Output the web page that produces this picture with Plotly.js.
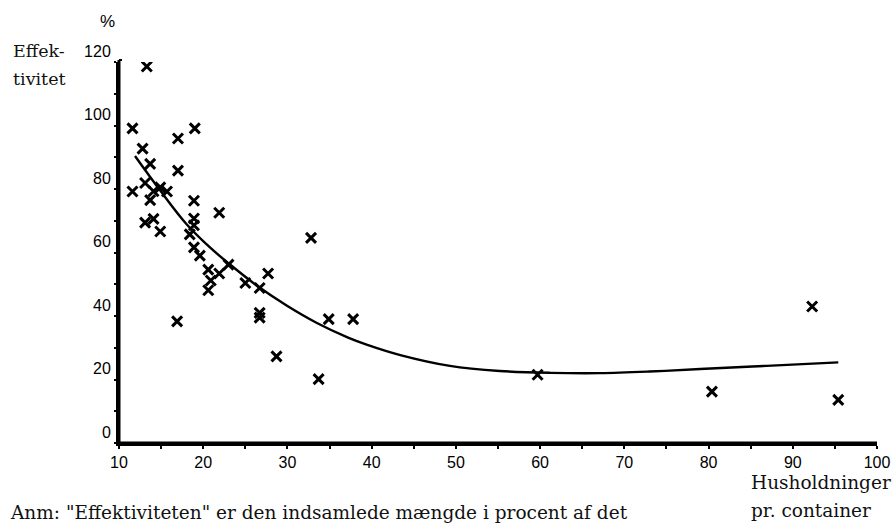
<!DOCTYPE html>
<html>
<head>
<meta charset="utf-8">
<script src="https://cdn.plot.ly/plotly-3.0.1.min.js"></script>
<style>html,body{margin:0;padding:0;background:#fff;}#chart{width:896px;height:527px;}</style>
</head>
<body>
<div id="chart"></div>
<script>
// Observed points: households per container vs. efficiency (%)
const householdsX = [13.3, 11.6, 19.0, 17.0, 12.8, 13.7, 17.0, 13.1, 11.6, 14.1, 14.9, 15.7, 13.7, 18.9, 21.9,
  13.1, 14.1, 18.9, 18.9, 14.9, 18.4, 32.8, 18.9, 19.6, 20.6, 21.9, 23.0, 20.9, 20.6, 25.0, 26.7, 27.7,
  26.7, 26.7, 16.9, 34.9, 37.8, 28.7, 33.7, 59.7, 92.3, 80.4, 95.4];
const efficiencyY = [118.6, 99.1, 99.1, 95.9, 92.7, 87.9, 85.8, 81.9, 79.2, 79.3, 80.5, 79.2, 76.5, 76.3, 72.5,
  69.4, 70.6, 70.7, 68.6, 66.6, 65.7, 64.6, 61.6, 59.0, 54.6, 53.4, 56.2, 51.2, 48.1, 50.4, 48.8, 53.4,
  41.0, 39.5, 38.3, 39.0, 39.0, 27.3, 20.1, 21.5, 43.0, 16.2, 13.6];
// Fitted curve
const curveX = [11.9, 14.9, 18.0, 20.8, 23.0, 26.4, 29.9, 33.5, 37.2, 39.4, 43.4, 49.3, 55.2, 61.2, 67.1, 73.0, 79.0, 86.9, 95.4];
const curveY = [90.4, 79.5, 69.0, 61.6, 56.6, 49.5, 43.3, 37.8, 33.2, 31.0, 27.7, 24.3, 22.7, 22.1, 22.0, 22.5, 23.3, 24.3, 25.4];
const xTicks = [10, 20, 30, 40, 50, 60, 70, 80, 90, 100];
const yTicks = [0, 20, 40, 60, 80, 100, 120];

const L = 119, R = 877, T = 62, B = 443;
const px = v => (v - L) / (R - L);
const py = v => (B - v) / (B - T);
const serif = "DejaVu Serif";
const sans = "Liberation Sans";

const traces = [
  {x: curveX, y: curveY, mode: 'lines', line: {color: '#000', width: 2.4, shape: 'spline', smoothing: 1.0},
   hoverinfo: 'skip', showlegend: false},
  {x: householdsX, y: efficiencyY, mode: 'markers',
   marker: {symbol: 'x-thin-open', size: 10, color: '#000', line: {color: '#000', width: 3}},
   showlegend: false}
];

const layout = {
  width: 896, height: 527,
  margin: {l: L, r: 896 - R, t: T, b: 527 - B},
  paper_bgcolor: '#fff', plot_bgcolor: '#fff',
  showlegend: false,
  xaxis: {range: [10, 100], tickvals: xTicks, ticktext: xTicks.map(String), showgrid: false, zeroline: false,
    showline: true, linecolor: '#000', linewidth: 3, ticks: 'outside', ticklen: 3, tickwidth: 2, tickcolor: '#000',
    minor: {dtick: 5, ticks: 'outside', ticklen: 3, tickwidth: 2, tickcolor: '#000'},
    tickfont: {family: sans, size: 16, color: '#000'}},
  yaxis: {range: [0, 120], tickvals: yTicks, ticktext: yTicks.map(String), showgrid: false, zeroline: false,
    showline: true, linecolor: '#000', linewidth: 3, ticks: 'outside', ticklen: 2, tickwidth: 2, tickcolor: '#000',
    minor: {dtick: 10, ticks: 'outside', ticklen: 2, tickwidth: 2, tickcolor: '#000'},
    ticklabelshift: -11,
    tickfont: {family: sans, size: 16, color: '#000'}},
  shapes: [
    {type: 'line', xref: 'paper', yref: 'paper', x0: 0, x1: 1, y0: 0, y1: 0, line: {color: '#000', width: 3}, layer: 'above'},
    {type: 'line', xref: 'paper', yref: 'paper', x0: 0, x1: 0, y0: 0, y1: py(60), line: {color: '#000', width: 3}, layer: 'above'},
    {type: 'line', xref: 'paper', yref: 'paper', x0: 0, x1: px(122), y0: py(60), y1: py(60), line: {color: '#000', width: 2}, layer: 'above'}
  ],
  annotations: [
    {text: '%', xref: 'paper', yref: 'paper', x: px(107), y: py(22), xanchor: 'center', yanchor: 'middle',
     showarrow: false, font: {family: sans, size: 17, color: '#000'}},
    {text: 'Effek-', xref: 'paper', yref: 'paper', x: px(11), y: py(51), xanchor: 'left', yanchor: 'middle',
     showarrow: false, font: {family: serif, size: 17.5, color: '#111'}},
    {text: 'tivitet', xref: 'paper', yref: 'paper', x: px(11), y: py(79), xanchor: 'left', yanchor: 'middle',
     showarrow: false, font: {family: serif, size: 17.5, color: '#111'}},
    {text: 'Husholdninger', xref: 'paper', yref: 'paper', x: px(749), y: py(482), xanchor: 'left', yanchor: 'middle',
     showarrow: false, font: {family: serif, size: 18.5, color: '#111'}},
    {text: 'pr. container', xref: 'paper', yref: 'paper', x: px(749), y: py(510), xanchor: 'left', yanchor: 'middle',
     showarrow: false, font: {family: serif, size: 18.5, color: '#111'}},
    {text: 'Anm: "Effektiviteten" er den indsamlede mængde i procent af det', xref: 'paper', yref: 'paper',
     x: px(8), y: py(512), xanchor: 'left', yanchor: 'middle',
     showarrow: false, font: {family: serif, size: 18.5, color: '#111'}}
  ]
};

Plotly.newPlot('chart', traces, layout, {displayModeBar: false, staticPlot: true});
</script>
</body>
</html>
